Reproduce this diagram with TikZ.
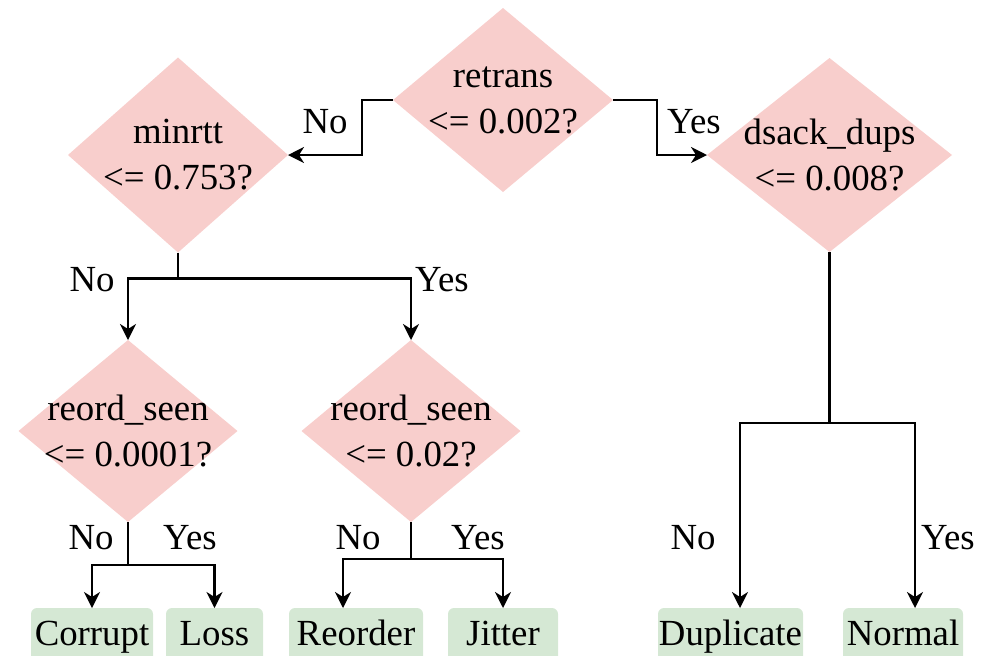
\documentclass[tikz,border=0pt]{standalone}
\usepackage{fontspec}
\setmainfont{Liberation Serif}
\usetikzlibrary{shapes.geometric,arrows.meta,calc}
\definecolor{diamfill}{HTML}{F8CECC}
\definecolor{leaffill}{HTML}{D5E8D4}
\begin{document}
\begin{tikzpicture}[x=0.5pt,y=-0.5pt,
  font=\fontsize{18.4pt}{23pt}\selectfont,
  diam/.style={shape=diamond, fill=diamfill, draw=none, inner sep=0pt, outer sep=0pt},
  dtext/.style={align=center, inner sep=0pt},
  leaf/.style={fill=leaffill, draw=none, rounded corners=3pt, inner sep=0pt, outer sep=0pt,
    minimum height=28pt, text height=12.5pt, text depth=3.5pt, anchor=north},
  conn/.style={draw=black, line width=1.15pt},
  arr/.style={conn, -{Stealth[length=8pt,width=8pt,inset=2.5pt]}},
  lbl/.style={inner sep=0pt}]
\useasboundingbox (0,0) rectangle (994,655);
% decision nodes
\node[diam, minimum width=110pt, minimum height=92pt] (root) at (503,100) {};
\node[dtext] (roott) at (root) {retrans\\<= 0.002?};
\node[diam, minimum width=110pt, minimum height=97.5pt] (minrtt) at (178,155) {};
\node[dtext] (minrttt) at (minrtt) {minrtt\\<= 0.753?};
\node[diam, minimum width=122.5pt, minimum height=97pt] (dsack) at (829.5,155) {};
\node[dtext] (dsackt) at (dsack) {dsack\_dups\\<= 0.008?};
\node[diam, minimum width=109.5pt, minimum height=91pt] (sa) at (128,431) {};
\node[dtext] (sat) at (sa) {reord\_seen\\<= 0.0001?};
\node[diam, minimum width=109.5pt, minimum height=91pt] (sb) at (411,431) {};
\node[dtext] (sbt) at (sb) {reord\_seen\\<= 0.02?};
% leaves
\node[leaf, minimum width=61pt] (corrupt) at (92,608) {Corrupt};
\node[leaf, minimum width=48.5pt] (loss) at (214.5,608) {Loss};
\node[leaf, minimum width=67pt] (reorder) at (356,608) {Reorder};
\node[leaf, minimum width=55pt] (jitter) at (503,608) {Jitter};
\node[leaf, minimum width=72.5pt] (duplicate) at (730.5,608) {Duplicate};
\node[leaf, minimum width=60pt] (normal) at (903,608) {Normal};
% connectors
\draw[arr] (root.west) -- ++(-31,0) |- (minrtt.east);
\draw[arr] (root.east) -- ++(44,0) |- (dsack.west);
\draw[conn] (minrtt.south) -- ++(0,26) coordinate (ja);
\draw[arr] (ja) -| (sa.north);
\draw[arr] (ja) -| (sb.north);
\draw[conn] (sa.south) -- ++(0,43) coordinate (jb);
\draw[arr] (jb) -| (corrupt.north);
\draw[arr] (jb) -| (loss.north);
\draw[conn] (sb.south) -- ++(0,37) coordinate (jc);
\draw[arr] (jc) -| ([xshift=-6.5pt]reorder.north);
\draw[arr] (jc) -| (jitter.north);
\draw[conn] (dsack.south) -- ++(0,171) coordinate (jd);
\draw[arr] (jd) -| ([xshift=4.75pt]duplicate.north);
\draw[arr] (jd) -| ([xshift=6pt]normal.north);
% labels
\node[lbl] (l1) at (325,122) {No};
\node[lbl] (l2) at (694,122) {Yes};
\node[lbl] (l3) at (92,280) {No};
\node[lbl] (l4) at (442,280) {Yes};
\node[lbl] (l5) at (91,538) {No};
\node[lbl] (l6) at (190,538) {Yes};
\node[lbl] (l7) at (358,538) {No};
\node[lbl] (l8) at (478,538) {Yes};
\node[lbl] (l9) at (693,538) {No};
\node[lbl] (l10) at (948,538) {Yes};
\end{tikzpicture}
\end{document}
